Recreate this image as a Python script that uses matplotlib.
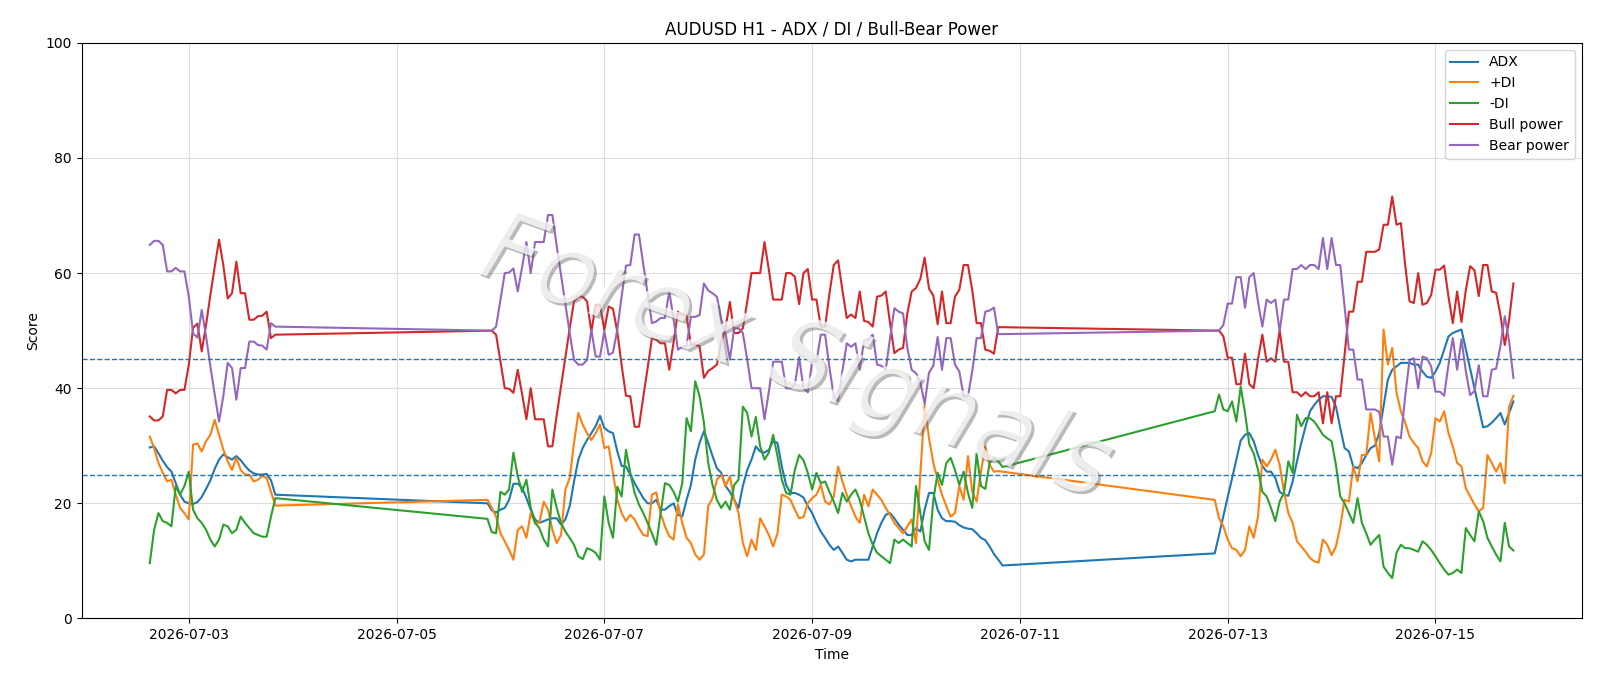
import matplotlib
matplotlib.use("Agg")
import matplotlib.pyplot as plt
import matplotlib.dates as mdates
import matplotlib.patheffects as pe
import pandas as pd

# hourly sessions (weekend gaps between them)
SEG_STARTS = ["2026-07-02 15:00", "2026-07-05 21:00", "2026-07-12 21:00"]

ADX = [
    [29.7, 29.9, 28.7, 27.4, 26.3, 25.5, 23.5, 21.5, 20.3, 20,
     19.9, 20.2, 21.1, 22.5, 24, 26, 27.6, 28.5, 28, 27.6,
     28.2, 27.5, 26.5, 25.7, 25.2, 25, 25, 25.1, 24, 21.5],
    [20, 18.8, 18.4, 18.9, 19.2, 20.6, 23.4, 23.4, 22.7, 20.9,
     18.9, 17.2, 16.6, 16.9, 17.2, 17.4, 17.4, 16.3, 17.2, 19.5,
     23.8, 27.6, 29.6, 31, 32.2, 33.4, 35.2, 33.1, 32.5, 32.2,
     29, 26.5, 26.4, 25, 23.5, 22.2, 20.9, 20, 20, 20.6,
     18.9, 18.9, 19.5, 20, 18, 17.7, 20.6, 23.2, 27.6, 30.5,
     32.5, 30.5, 28.2, 26.1, 25.3, 23, 22, 20.6, 19.2, 23,
     25.8, 27.6, 29.9, 29, 28.8, 29.3, 30.8, 30.5, 26.4, 23.2,
     21.8, 21.8, 21.5, 21, 19.5, 18.3, 16.6, 15.1, 14, 12.8,
     11.9, 12.5, 11.4, 10.2, 9.9, 10.2, 10.2, 10.2, 10.2, 12.5,
     14.8, 16.6, 18, 18.3, 17.4, 16.3, 15.4, 14.5, 14.5, 15.7,
     15.1, 18.9, 21.8, 21.8, 18.9, 17.4, 16.9, 16.9, 16.8, 16.2,
     15.8, 15.6, 15.5, 14.8, 14, 13.6, 12.5, 11.2, 10.2, 9.2],
    [11.3, 14.5, 17.8, 21.1, 24.3, 27.6, 30.9, 31.9, 32.2, 30.8,
     28.4, 26.5, 25.5, 25.5, 24.4, 22, 21.5, 21.3, 23.8, 27.3,
     30.5, 33.4, 36, 37.1, 38, 38.6, 38.6, 38.5, 36.8, 33.1,
     29.6, 29, 26.4, 26.1, 27, 28.4, 29.6, 30, 32.2, 36.8,
     41.5, 43.2, 43.8, 44.4, 44.4, 44.4, 44.1, 44.1, 42.9, 42,
     41.8, 42.9, 44.4, 46.7, 49, 49.6, 49.9, 50.2, 46.8, 43.4,
     40, 36.6, 33.2, 33.4, 34, 34.8, 35.7, 33.7, 35.7, 37.7],
]

PLUS_DI = [
    [31.6, 29.6, 27, 25.3, 23.8, 24.1, 21.5, 19.2, 18.3, 17.2,
     30.2, 30.4, 29, 30.8, 31.9, 34.5, 31.9, 29.3, 27.3, 25.8,
     27.9, 25.8, 25, 25, 23.8, 24.1, 24.8, 24.4, 22, 19.6],
    [20.6, 19.2, 17.7, 14.8, 13.4, 11.9, 10.2, 15.4, 16, 14,
     18.3, 16.6, 16.6, 20.3, 18.9, 15.4, 13.1, 14.5, 22.4, 24.4,
     30.5, 35.7, 33.7, 32.2, 31, 32.2, 33.7, 29.6, 29.9, 25.3,
     20.6, 18.3, 16.9, 18, 17.2, 15.7, 14.5, 14.3, 21.5, 21.9,
     18.3, 16, 14.3, 13.7, 19.8, 16.6, 14, 13.1, 11.1, 10.2,
     11.1, 19.5, 20.9, 24.1, 25, 23, 24.7, 20.6, 18.3, 13.1,
     10.8, 13.7, 11.9, 17.4, 16, 14.5, 12.5, 14.8, 21.5, 21.2,
     20.6, 18.9, 17.4, 17.6, 20, 20.9, 21.5, 23.2, 20.3, 19.8,
     21.2, 26.4, 23.8, 21.5, 19.5, 17.7, 16.6, 21.5, 19.5, 22.4,
     21.5, 20.6, 19.2, 18, 16.6, 15.7, 14.8, 16, 17.2, 13.1,
     25, 37.1, 31.3, 27, 24.1, 21.5, 19.5, 17.7, 18.3, 23,
     20.6, 28.2, 22, 20.3, 25.5, 29.9, 26.7, 25.5, 25.6, 25.5],
    [20.6, 17.4, 16, 13.7, 12.2, 11.9, 10.8, 11.9, 16, 14,
     17.7, 27.6, 26.4, 27.6, 29.3, 26.7, 22, 18.3, 16.6, 13.4,
     12.5, 11.6, 10.5, 9.9, 9.7, 13.7, 12.8, 11, 12.5, 16,
     20.6, 20.3, 26.4, 23.8, 28.4, 28.4, 35.7, 31.3, 27.3, 50.2,
     44.1, 47, 39.2, 36, 34, 31.6, 30.5, 29.6, 27.3, 26.4,
     28.7, 34.8, 34.2, 36, 32.2, 29.9, 27, 26.4, 22.6, 21.2,
     19.8, 18.6, 19.2, 28.4, 27, 25.5, 27, 23.5, 36.8, 38.7],
]

MINUS_DI = [
    [9.6, 15.4, 18.3, 16.9, 16.6, 16, 23, 21.5, 23, 25.5,
     18.9, 17.4, 16.6, 15.4, 13.7, 12.5, 13.7, 16.3, 16, 14.8,
     15.4, 17.7, 16.6, 15.7, 14.8, 14.5, 14.2, 14.2, 17.7, 20.9],
    [17.3, 15, 14.8, 22, 21.5, 22.4, 28.8, 24.7, 22, 24.1,
     19.2, 16.6, 15.7, 13.7, 12.5, 22.4, 19.2, 16.6, 15.1, 14,
     12.8, 10.8, 10.3, 12.2, 11.9, 11.4, 10.2, 21.2, 16.6, 14,
     22.9, 21.2, 29.3, 25.3, 21.8, 19.8, 18.3, 16.6, 14.8, 12.8,
     18.3, 23.5, 23.2, 22, 20.3, 23.5, 34.8, 32.5, 41.2, 38.6,
     34, 27, 23.2, 20.6, 19.2, 20.3, 18.9, 23.2, 24.1, 36.8,
     35.7, 31.6, 35, 29.9, 27.6, 28.8, 31.9, 28.2, 24.1, 21.8,
     21.5, 25.8, 28.4, 27.5, 25.3, 22.4, 25.3, 23.5, 23.8, 22,
     20.3, 18.3, 21.8, 20.3, 21.5, 22.4, 20.6, 17.7, 14.8, 12.8,
     11.4, 10.8, 10.2, 9.6, 13.7, 13.1, 13.7, 13.1, 12.5, 23,
     18.3, 13.4, 11.9, 20.6, 25.3, 23.2, 27, 27.9, 25.8, 23.2,
     25.5, 21.8, 19.2, 28.7, 23, 22.5, 27, 27.9, 27.3, 26.3],
    [36, 38.9, 36.3, 36, 37.7, 34.2, 40.3, 35.7, 30.2, 28.7,
     25.8, 22, 21.2, 19.2, 16.9, 20.3, 21.8, 27.3, 25.3, 35.4,
     33.4, 34.8, 34.8, 34.2, 33.1, 31.9, 31.3, 30.8, 26.7, 21.2,
     20, 18.3, 16.6, 20.9, 16.6, 14.8, 12.8, 13.7, 14.5, 9,
     7.9, 7, 11.4, 12.8, 12.2, 12.2, 11.9, 11.6, 13.4, 12.8,
     11.9, 10.8, 9.6, 8.5, 7.6, 7.9, 8.5, 7.9, 15.7, 14.5,
     13.4, 18.6, 16.9, 14, 12.5, 11.1, 9.9, 16.6, 12.5, 11.8],
]

BULL = [
    [35.1, 34.4, 34.4, 35.1, 39.7, 39.7, 39.1, 39.7, 39.7, 44,
     50.5, 51.2, 46.4, 51, 56.2, 61.1, 65.8, 61.3, 55.6, 56.5,
     62, 56.5, 56.5, 51.9, 51.9, 52.5, 52.6, 53.3, 48.7, 49.3],
    [50, 50, 49.3, 44.7, 40, 39.9, 39.2, 43.2, 39, 34.6,
     40, 34.6, 34.6, 34.6, 29.9, 29.9, 35.3, 40.3, 45.4, 50.4,
     55.1, 55.9, 55.9, 55.1, 49.8, 54.5, 54.5, 50.1, 54.2, 53.8,
     49.8, 44, 38.7, 38.6, 33.3, 33.3, 38.5, 43.5, 48.7, 48.4,
     47.8, 47.8, 43.2, 48, 53.3, 52.8, 52.6, 47.6, 47.6, 47.3,
     41.8, 43, 43.5, 44.1, 48, 50.5, 55, 49.6, 49.6, 50.4,
     55, 60, 60, 60, 65.4, 60.6, 55.4, 55.4, 55.4, 60,
     60, 59.4, 54.6, 60, 60.7, 55.4, 55.4, 50.7, 50.7, 56.4,
     61.4, 62.2, 57, 52.2, 52.8, 52.2, 56.8, 51.7, 51.5, 50.7,
     55.9, 56.1, 56.8, 51.3, 46.1, 46.7, 47, 53, 56.8, 57.4,
     59, 62.7, 57.3, 56.1, 51.1, 56.8, 51.3, 51.3, 55.9, 57.1,
     61.4, 61.4, 57, 51.3, 51.3, 46.7, 46.5, 46, 50.6, 50.6],
    [50, 50, 49, 45.3, 45.3, 40.7, 40.7, 46, 40.7, 40,
     45, 49.3, 44.6, 45.2, 44.6, 50.1, 44.6, 44.6, 39.3, 39.3,
     38.6, 39.3, 38.6, 38.6, 39.3, 33.9, 39.3, 33.9, 38.6, 38.6,
     45.8, 53.3, 53.3, 58.5, 58.5, 63.7, 63.7, 63.7, 64.1, 68.4,
     68.4, 73.3, 68.4, 68.7, 61.4, 55.1, 54.8, 60, 54.5, 54.8,
     56.2, 60.6, 60.6, 61.3, 55.9, 51.3, 56.8, 51.5, 57, 61.2,
     60.5, 56, 61.4, 61.4, 56.8, 56.6, 52.7, 47.5, 51.8, 58.2],
]

BEAR = [
    [64.9, 65.6, 65.6, 64.9, 60.3, 60.3, 60.9, 60.3, 60.3, 56,
     49.5, 48.8, 53.6, 49, 43.8, 38.9, 34.2, 38.7, 44.4, 43.5,
     38, 43.5, 43.5, 48.1, 48.1, 47.5, 47.4, 46.7, 51.3, 50.7],
    [50, 50, 50.7, 55.3, 60, 60.1, 60.8, 56.8, 61, 65.4,
     60, 65.4, 65.4, 65.4, 70.1, 70.1, 64.7, 59.7, 54.6, 49.6,
     44.9, 44.1, 44.1, 44.9, 50.2, 45.5, 45.5, 49.9, 45.8, 46.2,
     50.2, 56, 61.3, 61.4, 66.7, 66.7, 61.5, 56.5, 51.3, 51.6,
     52.2, 52.2, 56.8, 52, 46.7, 47.2, 47.4, 52.4, 52.4, 52.7,
     58.2, 57, 56.5, 55.9, 52, 49.5, 45, 50.4, 50.4, 49.6,
     45, 40, 40, 40, 34.6, 39.4, 44.6, 44.6, 44.6, 40,
     40, 40.6, 45.4, 40, 39.3, 44.6, 44.6, 49.3, 49.3, 43.6,
     38.6, 37.8, 43, 47.8, 47.2, 47.8, 43.2, 48.3, 48.5, 49.3,
     44.1, 43.9, 43.2, 48.7, 53.9, 53.3, 53, 47, 43.2, 42.6,
     41, 37.3, 42.7, 43.9, 48.9, 43.2, 48.7, 48.7, 44.1, 42.9,
     38.6, 38.6, 43, 48.7, 48.7, 53.3, 53.5, 54, 49.4, 49.4],
    [50, 50, 51, 54.7, 54.7, 59.3, 59.3, 54, 59.3, 60,
     55, 50.7, 55.4, 54.8, 55.4, 49.9, 55.4, 55.4, 60.7, 60.7,
     61.4, 60.7, 61.4, 61.4, 60.7, 66.1, 60.7, 66.1, 61.4, 61.4,
     54.2, 46.7, 46.7, 41.5, 41.5, 36.3, 36.3, 36.3, 35.9, 31.6,
     31.6, 26.7, 31.6, 31.3, 38.6, 44.9, 45.2, 40, 45.5, 45.2,
     43.8, 39.4, 39.4, 38.7, 44.1, 48.7, 43.2, 48.5, 43, 38.8,
     39.5, 44, 38.6, 38.6, 43.2, 43.4, 47.3, 52.5, 48.2, 41.8],
]

LEVELS = [25, 45]


def build():
    idx = []
    for start, seg in zip(SEG_STARTS, ADX):
        idx.extend(pd.date_range(start, periods=len(seg), freq="h"))
    flat = lambda s: [v for seg in s for v in seg]
    return pd.DataFrame({"ADX": flat(ADX), "+DI": flat(PLUS_DI), "-DI": flat(MINUS_DI),
                         "Bull power": flat(BULL), "Bear power": flat(BEAR)},
                        index=pd.DatetimeIndex(idx))


def main():
    df = build()
    fig, ax = plt.subplots(figsize=(16, 6.86), dpi=100)
    fig.subplots_adjust(left=0.051, right=0.9885, top=0.9375, bottom=0.0985)

    for col in df.columns:
        ax.plot(df.index, df[col], label=col, linewidth=1.5)
    for lv in LEVELS:
        ax.axhline(lv, color="C0", linestyle="--", linewidth=1)

    ax.set_ylim(0, 100)
    ax.xaxis.set_major_locator(mdates.DayLocator(interval=2))
    ax.xaxis.set_major_formatter(mdates.DateFormatter("%Y-%m-%d"))
    ax.grid(True, color="#dddddd", linewidth=0.8)
    ax.set_title("AUDUSD H1 - ADX / DI / Bull-Bear Power")
    ax.set_xlabel("Time")
    ax.set_ylabel("Score")
    ax.legend(loc="upper right")

    # watermark: white text with a soft grey drop shadow
    ax.text(0.476, 0.45, "Forex Signals", transform=ax.transAxes,
            fontsize=71, style="italic", color="white", alpha=0.5,
            rotation=-20, ha="center", va="center", zorder=10,
            path_effects=[pe.withSimplePatchShadow(offset=(2, -2),
                                                   shadow_rgbFace="#666666",
                                                   alpha=0.45),
                          pe.Normal()])

    fig.savefig("out.png", dpi=100)
    plt.close(fig)


if __name__ == "__main__":
    main()
